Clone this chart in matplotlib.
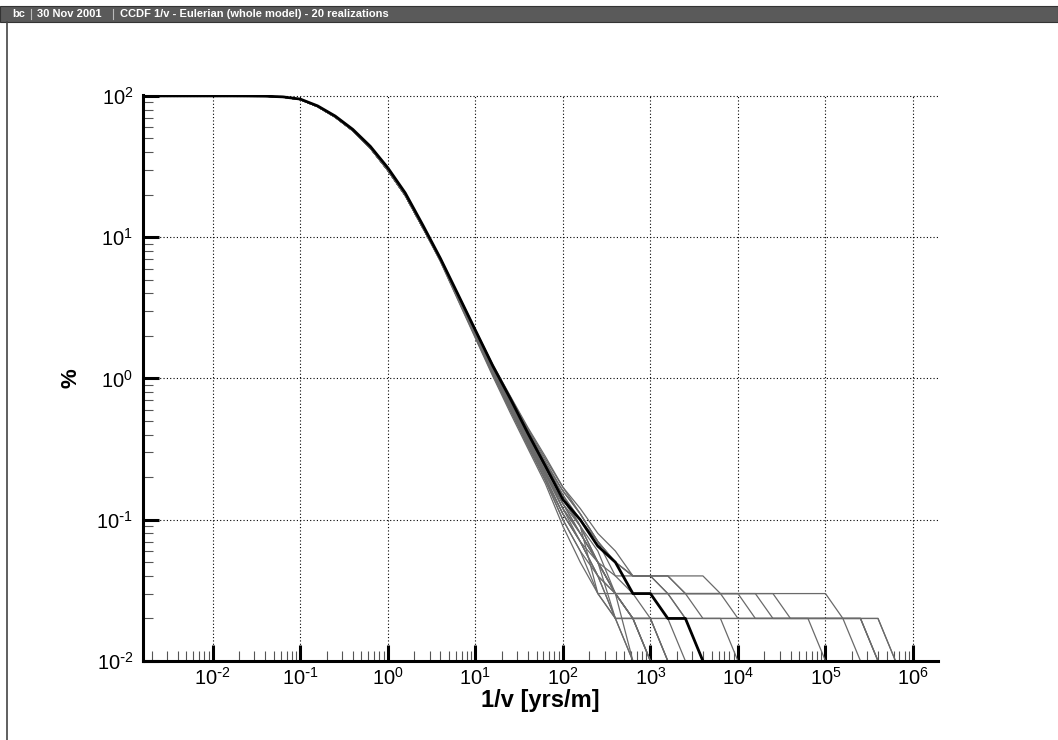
import matplotlib
matplotlib.use("Agg")
import matplotlib.pyplot as plt
from matplotlib.lines import Line2D
from matplotlib.patches import Rectangle
from matplotlib.ticker import LogLocator, NullFormatter

plt.rcParams['font.family'] = ['Liberation Sans', 'DejaVu Sans']
plt.rcParams['mathtext.default'] = 'regular'
plt.rcParams['axes.unicode_minus'] = False

# sample grid of 1/v [yrs/m] (0.2 decade spacing)
x_grid = [0.001, 0.00158, 0.00251, 0.00398, 0.00631, 0.01, 0.0158, 0.0251, 0.0398, 0.0631,
          0.1, 0.158, 0.251, 0.398, 0.631, 1, 1.58, 2.51, 3.98, 6.31,
          10, 15.8, 25.1, 39.8, 63.1, 100, 158, 251, 398, 631,
          1000, 1580, 2510, 3980, 6310, 1e4, 1.58e4, 2.51e4, 3.98e4, 6.31e4,
          1e5, 1.58e5, 2.51e5, 3.98e5, 6.31e5, 1e6]

# common head of the curves, x = 0.001 .. 2.51  [%]
black_head = [100, 100, 100, 100, 100, 100, 100, 99.9, 99.6, 98.5,
              95, 85, 72, 58, 44, 31, 20.6, 12.2]
gray_head = [100, 100, 100, 100, 100, 100, 100, 99.9, 99.5, 98.2,
             94.3, 84, 70.8, 56.8, 42.8, 29.8, 19.8, 11.7]

# from x = 3.98 onwards, each run until it reaches 0.01 %
black_run = [7.1, 3.96, 2.2, 1.23, 0.72, 0.41, 0.24, 0.139, 0.10, 0.065, 0.05,
             0.03, 0.03, 0.02, 0.02, 0.01]

gray_runs = [
    [6.8, 3.65, 1.96, 1.06, 0.59, 0.33, 0.19, 0.10, 0.06, 0.03, 0.02, 0.01],
    [6.9, 3.75, 2.04, 1.12, 0.64, 0.36, 0.20, 0.11, 0.07, 0.04, 0.02, 0.01],
    [6.8, 3.70, 2.00, 1.09, 0.61, 0.34, 0.19, 0.10, 0.06, 0.04, 0.02, 0.02, 0.01],
    [7.0, 3.85, 2.10, 1.16, 0.67, 0.38, 0.22, 0.12, 0.08, 0.05, 0.03, 0.02, 0.01],
    [6.9, 3.72, 2.02, 1.10, 0.62, 0.35, 0.20, 0.11, 0.07, 0.05, 0.03, 0.01],
    [7.0, 3.80, 2.06, 1.14, 0.65, 0.37, 0.21, 0.12, 0.07, 0.04, 0.03, 0.02, 0.01],
    [6.85, 3.70, 2.02, 1.10, 0.63, 0.36, 0.21, 0.13, 0.08, 0.05, 0.02, 0.02, 0.02, 0.01],
    [7.05, 3.90, 2.15, 1.20, 0.70, 0.40, 0.24, 0.14, 0.09, 0.05, 0.03, 0.02, 0.02, 0.01],
    [7.1, 3.95, 2.20, 1.24, 0.74, 0.44, 0.27, 0.17, 0.11, 0.07, 0.05,
     0.04, 0.04, 0.04, 0.04, 0.04, 0.03, 0.03, 0.03, 0.03, 0.03, 0.03, 0.03,
     0.02, 0.02, 0.02, 0.01],
    [7.05, 3.92, 2.17, 1.22, 0.72, 0.42, 0.25, 0.15, 0.09, 0.03,
     0.03, 0.03, 0.03, 0.03, 0.03, 0.03, 0.03, 0.03, 0.03, 0.03,
     0.02, 0.02, 0.02, 0.02, 0.02, 0.01],
    [7.1, 3.97, 2.22, 1.26, 0.75, 0.45, 0.28, 0.17, 0.12, 0.08, 0.06,
     0.04, 0.04, 0.03, 0.03, 0.03, 0.03, 0.03, 0.03,
     0.02, 0.02, 0.02, 0.02, 0.02, 0.02, 0.01],
    [7.0, 3.88, 2.14, 1.19, 0.70, 0.41, 0.25, 0.16, 0.11, 0.07,
     0.04, 0.04, 0.04, 0.04, 0.03, 0.03, 0.03,
     0.02, 0.02, 0.02, 0.02, 0.02, 0.02, 0.02, 0.02, 0.01],
    [6.95, 3.8, 2.08, 1.15, 0.66, 0.38, 0.22, 0.13, 0.08, 0.05, 0.03,
     0.02, 0.02, 0.02, 0.02, 0.02, 0.02, 0.02, 0.02, 0.02, 0.02, 0.02, 0.02,
     0.02, 0.02, 0.02, 0.01],
    [7.0, 3.86, 2.12, 1.18, 0.68, 0.39, 0.23, 0.14, 0.09, 0.06,
     0.03, 0.03, 0.03, 0.03, 0.03,
     0.02, 0.02, 0.02, 0.02, 0.02, 0.02, 0.02, 0.01],
    [7.08, 3.93, 2.19, 1.23, 0.73, 0.43, 0.26, 0.16, 0.11, 0.07, 0.05,
     0.04, 0.04, 0.04, 0.03, 0.03, 0.03, 0.03,
     0.02, 0.02, 0.02, 0.02, 0.02, 0.02, 0.01],
    [7.02, 3.87, 2.13, 1.18, 0.69, 0.40, 0.24, 0.15, 0.10, 0.07, 0.05,
     0.04, 0.04, 0.03, 0.02, 0.02, 0.02, 0.01],
    [6.95, 3.78, 2.06, 1.13, 0.65, 0.37, 0.22, 0.13, 0.09, 0.05,
     0.03, 0.03, 0.03, 0.03, 0.02, 0.01],
    [6.9, 3.76, 2.05, 1.12, 0.64, 0.37, 0.21, 0.12, 0.08, 0.05, 0.04,
     0.03, 0.02, 0.02, 0.01],
    [6.85, 3.68, 1.99, 1.08, 0.60, 0.34, 0.19, 0.11, 0.07, 0.04, 0.03,
     0.02, 0.02, 0.01],
    [6.75, 3.6, 1.93, 1.04, 0.57, 0.32, 0.18, 0.09, 0.05, 0.03, 0.02,
     0.02, 0.01],
]

x_ticks = [1e-2, 1e-1, 1e0, 1e1, 1e2, 1e3, 1e4, 1e5, 1e6]
x_labels = [r'$10^{\text{-}2}$', r'$10^{\text{-}1}$', '$10^{0}$', '$10^{1}$', '$10^{2}$',
            '$10^{3}$', '$10^{4}$', '$10^{5}$', '$10^{6}$']
y_ticks = [1e-2, 1e-1, 1e0, 1e1, 1e2]
y_labels = [r'$10^{\text{-}2}$', r'$10^{\text{-}1}$', '$10^{0}$', '$10^{1}$', '$10^{2}$']

fig = plt.figure(figsize=(10.58, 7.40), dpi=100)

# header bar
fig.patches.append(Rectangle((0, 0.9703), 1, 0.0216, transform=fig.transFigure,
                             facecolor='#5a5a5a', edgecolor='#333333', lw=0.8))
fig.text(0.0115, 0.981, 'bc', color='white', fontsize=8, fontweight='bold', va='center')
fig.text(0.035, 0.981, '30 Nov 2001', color='white', fontsize=8, fontweight='bold', va='center')
fig.text(0.1135, 0.981, 'CCDF 1/v - Eulerian (whole model) - 20 realizations',
         color='white', fontsize=8, fontweight='bold', va='center')
for xs in [0.0293, 0.1068]:
    fig.lines.append(Line2D([xs, xs], [0.974, 0.988], transform=fig.transFigure,
                            color='#bbbbbb', lw=0.8))
fig.lines.append(Line2D([0.0065, 0.0065], [0, 0.9703], transform=fig.transFigure,
                        color='#444444', lw=1.2))

ax = fig.add_axes([0.1352, 0.1068, 0.7514, 0.7648])
ax.set_xscale('log')
ax.set_yscale('log')

for run in gray_runs:
    xs = x_grid[:len(gray_head) + len(run)]
    ax.plot(xs, gray_head + run, color='#6a6a6a', lw=0.9, zorder=2)
ax.plot(x_grid[:len(black_head) + len(black_run)], black_head + black_run,
        color='black', lw=2.0, zorder=3)

ax.set_xlim(1.6e-3, 1.93e6)
ax.set_ylim(1e-2, 101.5)

ax.spines['top'].set_visible(False)
ax.spines['right'].set_visible(False)
for s in ['left', 'bottom']:
    ax.spines[s].set_linewidth(2.2)
    ax.spines[s].set_zorder(4)

ax.set_xticks(x_ticks)
ax.set_xticklabels(x_labels)
ax.set_yticks(y_ticks)
ax.set_yticklabels(y_labels)
ax.xaxis.set_minor_locator(LogLocator(base=10, subs=range(2, 10), numticks=30))
ax.yaxis.set_minor_locator(LogLocator(base=10, subs=range(2, 10), numticks=30))
ax.xaxis.set_minor_formatter(NullFormatter())
ax.yaxis.set_minor_formatter(NullFormatter())
ax.tick_params(which='major', direction='in', length=11.5, width=2.2, labelsize=14.5,
               color='black', pad=4)
ax.tick_params(which='minor', direction='in', length=7, width=0.8, color='#555555')
ax.tick_params(axis='y', which='major', pad=7)

ax.grid(True, which='major', color='black', lw=0.8, ls=(0, (1, 2)))

ax.set_xlabel('1/v [yrs/m]', fontsize=17, fontweight='bold')
ax.set_ylabel('%', fontsize=16, fontweight='bold')
ax.xaxis.set_label_coords(0.5, -0.05)
ax.yaxis.set_label_coords(-0.078, 0.5)
ax.xaxis.label.set_va('top')

fig.savefig('out.png', dpi=100)
